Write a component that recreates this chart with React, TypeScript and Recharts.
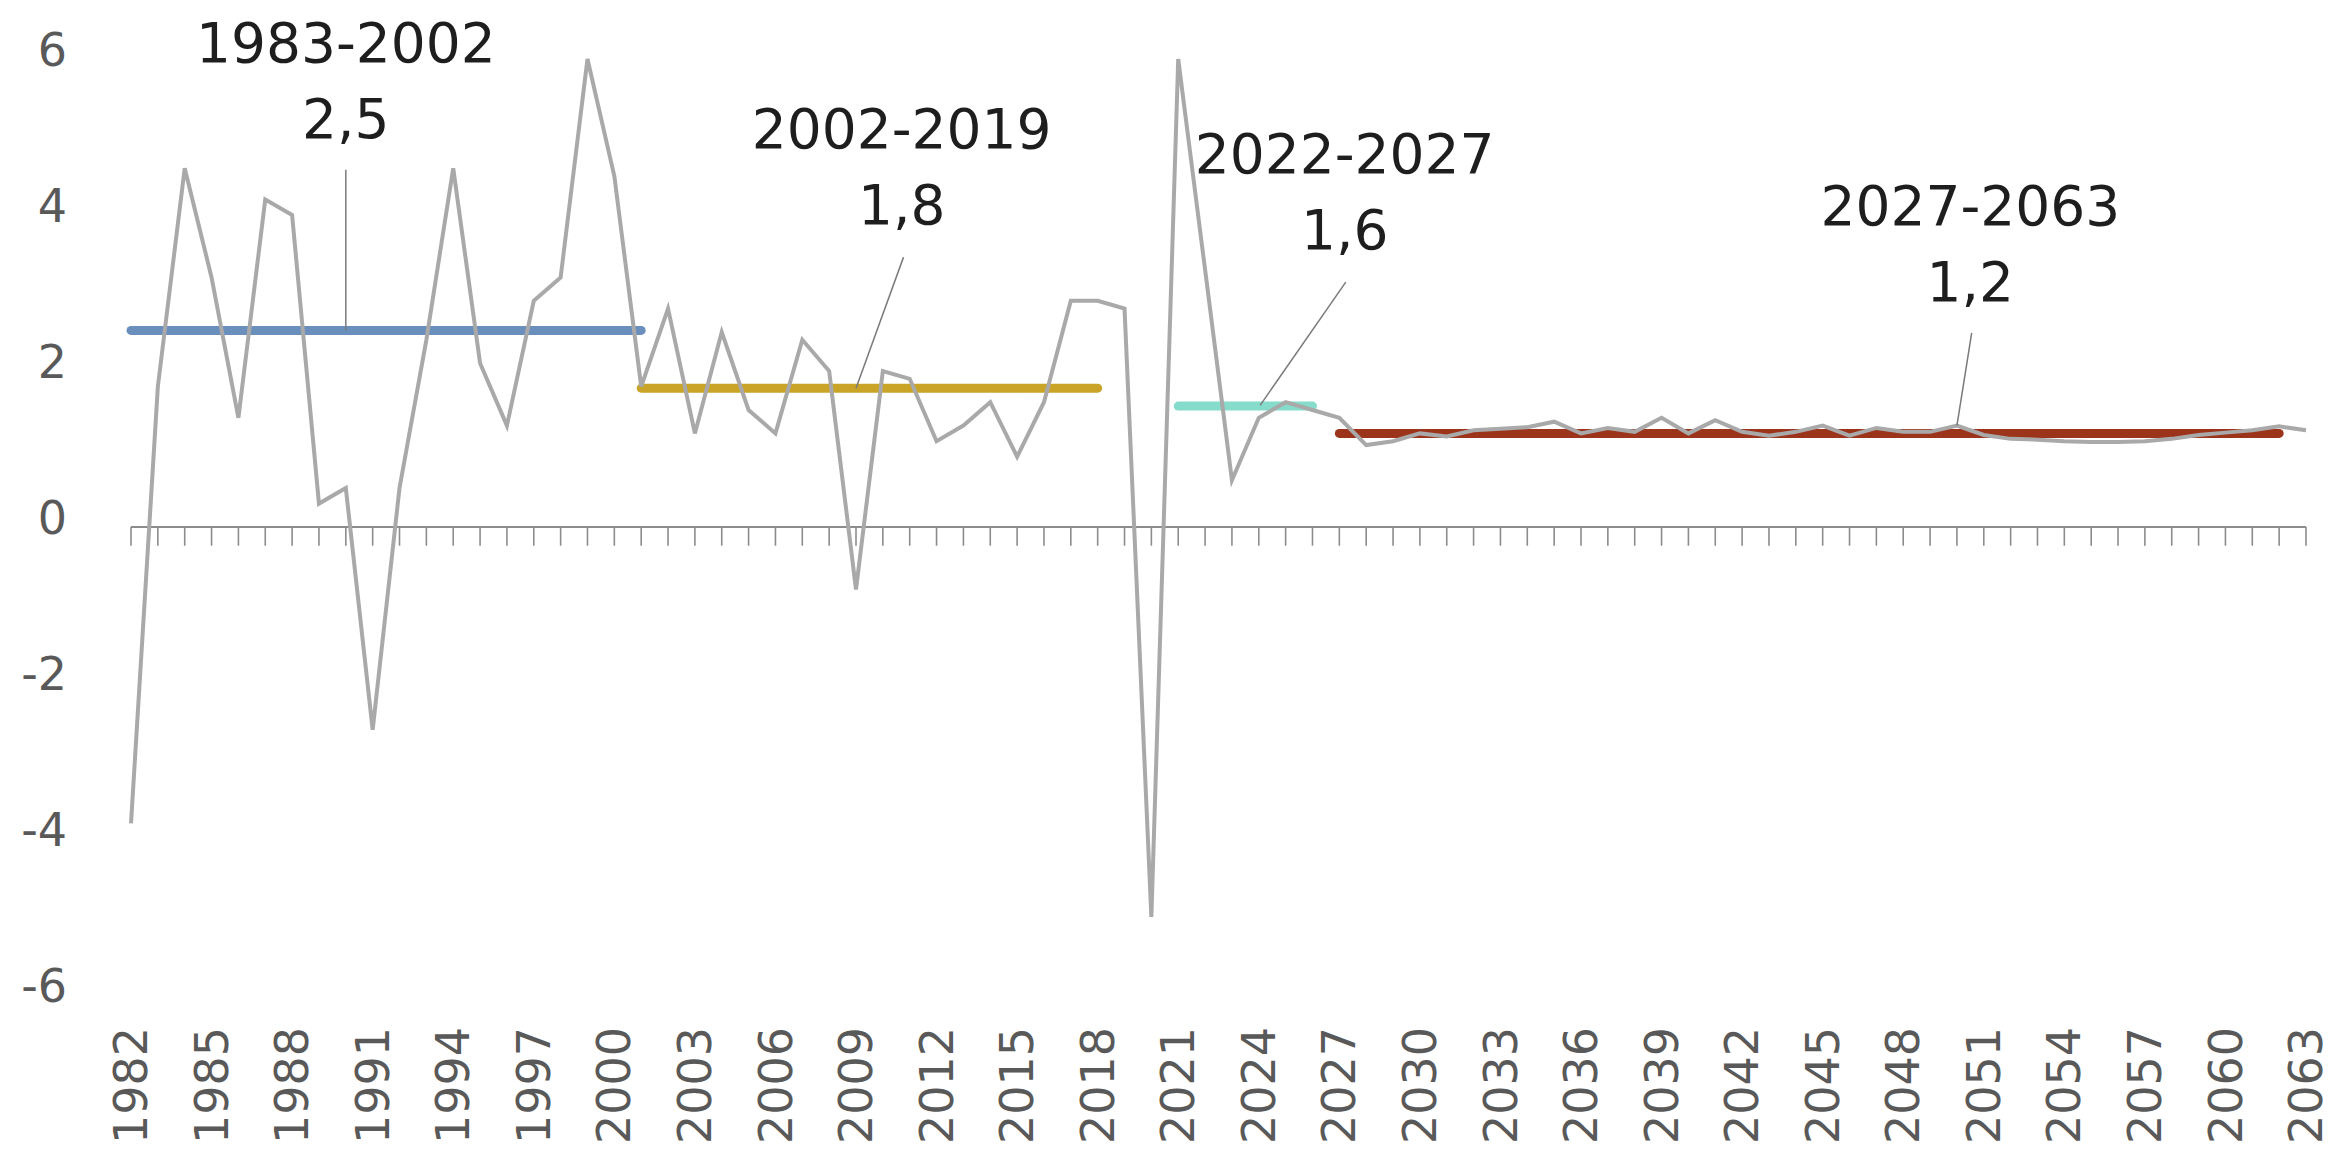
import { LineChart, Line, XAxis, YAxis, ReferenceLine, ReferenceDot } from "recharts";

const FIRST_YEAR = 1982;

// annual growth, 1982..2063
const GROWTH = [
  -3.8, 1.8, 4.6, 3.2, 1.4, 4.2, 4.0, 0.3, 0.5, -2.6, // 1982-1991
  0.5, 2.4, 4.6, 2.1, 1.3, 2.9, 3.2, 6.0, 4.5, 1.8, // 1992-2001
  2.8, 1.2, 2.5, 1.5, 1.2, 2.4, 2.0, -0.8, 2.0, 1.9, // 2002-2011
  1.1, 1.3, 1.6, 0.9, 1.6, 2.9, 2.9, 2.8, -5.0, 6.0, // 2012-2021
  3.3, 0.6, 1.4, 1.6, 1.5, 1.4, 1.05, 1.1, 1.2, 1.16, // 2022-2031
  1.24, 1.26, 1.28, 1.35, 1.2, 1.27, 1.22, 1.4, 1.2, 1.37, // 2032-2041
  1.22, 1.17, 1.22, 1.3, 1.17, 1.27, 1.22, 1.22, 1.3, 1.18, // 2042-2051
  1.13, 1.12, 1.1, 1.09, 1.09, 1.1, 1.13, 1.18, 1.21, 1.24, // 2052-2061
  1.29, 1.24, // 2062-2063
];

const YEARS = GROWTH.map((_, i) => FIRST_YEAR + i);
const X_TICKS = YEARS.filter((_, i) => i % 3 === 0);
const Y_TICKS = [-6, -4, -2, 0, 2, 4, 6];

// period averages (drawn spans as in the picture)
const PERIOD_KEYS = ["p1", "p2", "p3", "p4"];
const PERIOD_START = [1982, 2001, 2021, 2027];
const PERIOD_END = [2001, 2018, 2026, 2062];
const PERIOD_AVG = [2.52, 1.78, 1.55, 1.2];
const PERIOD_COLORS = ["#6a8fbd", "#c9a426", "#86dccb", "#9c341c"];

// annotation texts, their anchor (year, value) and leader lines
const ANNOT_TITLES = ["1983-2002", "2002-2019", "2022-2027", "2027-2063"];
const ANNOT_VALUES = ["2,5", "1,8", "1,6", "1,2"];
const ANNOT_X = [1990, 2010.7, 2027.2, 2050.5];
const ANNOT_Y = [5.96, 4.86, 4.54, 3.87];
const LEADER_FROM = [
  { x: 1990, y: 4.58 },
  { x: 2010.77, y: 3.46 },
  { x: 2027.24, y: 3.14 },
  { x: 2050.55, y: 2.49 },
];
const LEADER_TO = [
  { x: 1990, y: 2.52 },
  { x: 2009, y: 1.78 },
  { x: 2024.05, y: 1.56 },
  { x: 2050, y: 1.3 },
];

const data = YEARS.map((year, i) => {
  const row: Record<string, number | null> = { year, growth: GROWTH[i] };
  PERIOD_KEYS.forEach((k, j) => {
    row[k] = year >= PERIOD_START[j] && year <= PERIOD_END[j] ? PERIOD_AVG[j] : null;
  });
  return row;
});

const FONT = "DejaVu Sans";
const TICK_COLOR = "#595959";
const AXIS_COLOR = "#8c8c8c";

function XTick({ x, y, payload }: any) {
  return (
    <text
      x={x}
      y={y}
      transform={`rotate(-90 ${x} ${y})`}
      textAnchor="end"
      dy="0.35em"
      fontSize={46}
      fontFamily={FONT}
      fill={TICK_COLOR}
    >
      {payload.value}
    </text>
  );
}

function YTick({ x, y, payload }: any) {
  return (
    <text x={x} y={y - 9} dy="0.355em" textAnchor="end" fontSize={46} fontFamily={FONT} fill={TICK_COLOR}>
      {payload.value}
    </text>
  );
}

function Annotation({ cx, cy, title, value }: any) {
  return (
    <text x={cx} y={cy} textAnchor="middle" fontSize={55} fontFamily={FONT} fill="#1e1e1e">
      <tspan x={cx}>{title}</tspan>
      <tspan x={cx} dy={76}>
        {value}
      </tspan>
    </text>
  );
}

export default function App() {
  return (
    <div style={{ width: 2333, height: 1152, background: "#fff" }}>
      <style>{"body{margin:0}"}</style>
      <LineChart width={2333} height={1152} data={data} margin={{ top: 59, right: 27, bottom: 0, left: 0 }}>
        <XAxis
          dataKey="year"
          type="number"
          domain={[1982, 2063]}
          ticks={X_TICKS}
          interval={0}
          axisLine={false}
          tickLine={false}
          tickSize={0}
          tickMargin={32}
          height={157}
          tick={<XTick />}
        />
        <YAxis
          type="number"
          domain={[-6, 6]}
          ticks={Y_TICKS}
          interval={0}
          axisLine={false}
          tickLine={false}
          tickSize={0}
          tickMargin={64}
          width={131}
          tick={<YTick />}
        />
        <ReferenceLine y={0} stroke={AXIS_COLOR} strokeWidth={2} />
        {YEARS.map((yr) => (
          <ReferenceLine
            key={`t${yr}`}
            segment={[
              { x: yr, y: 0 },
              { x: yr, y: -0.24 },
            ]}
            stroke={AXIS_COLOR}
            strokeWidth={1.6}
          />
        ))}
        {PERIOD_KEYS.map((k, j) => (
          <Line
            key={k}
            dataKey={k}
            stroke={PERIOD_COLORS[j]}
            strokeWidth={9}
            strokeLinecap="round"
            dot={false}
            activeDot={false}
            isAnimationActive={false}
          />
        ))}
        <Line
          dataKey="growth"
          stroke="#a9a9a9"
          strokeWidth={4}
          dot={false}
          activeDot={false}
          isAnimationActive={false}
        />
        {ANNOT_TITLES.map((t, j) => (
          <ReferenceLine
            key={`l${j}`}
            segment={[LEADER_FROM[j], LEADER_TO[j]]}
            stroke="#7a7a7a"
            strokeWidth={1.5}
          />
        ))}
        {ANNOT_TITLES.map((t, j) => (
          <ReferenceDot
            key={`a${j}`}
            x={ANNOT_X[j]}
            y={ANNOT_Y[j]}
            r={0}
            ifOverflow="visible"
            shape={(p: any) => <Annotation cx={p.cx} cy={p.cy} title={t} value={ANNOT_VALUES[j]} />}
          />
        ))}
      </LineChart>
    </div>
  );
}
